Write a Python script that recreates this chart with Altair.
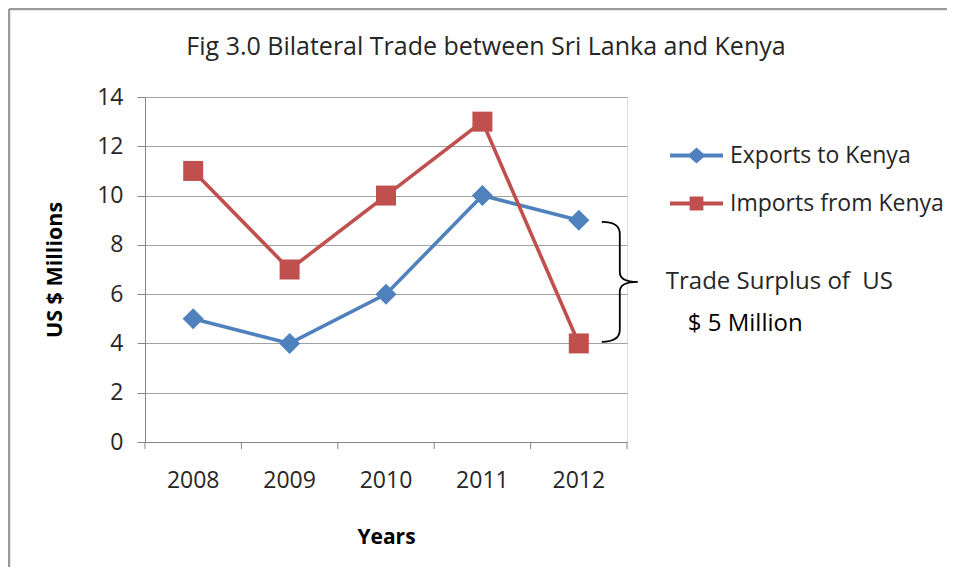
import altair as alt
import pandas as pd

# ---- data ----
years = ["2008", "2009", "2010", "2011", "2012"]
exports_to_kenya = [5, 4, 6, 10, 9]
imports_from_kenya = [11, 7, 10, 13, 4]
series_names = ["Exports to Kenya", "Imports from Kenya"]
series_colors = ["#4F81BD", "#C0504D"]
series_shapes = ["diamond", "square"]
series_sizes = [441, 400]
y_ticks = [0, 2, 4, 6, 8, 10, 12, 14]
annotation_lines = ["Trade Surplus of\u00a0 US", "$ 5 Million"]
annotation_year = "2012"
annotation_mid = 6.5  # midway between 9 and 4

W, H = 482, 345
FONT = "Open Sans"
TXT = "#262626"
AXIS_GRAY = "#868686"
GRID_GRAY = "#A0A0A0"

df = pd.DataFrame(
    {
        "year": years * 2,
        "value": exports_to_kenya + imports_from_kenya,
        "series": [series_names[0]] * len(years) + [series_names[1]] * len(years),
    }
)
ticks_df = pd.DataFrame({"year": years})
ann_df = pd.DataFrame({"year": [annotation_year], "value": [annotation_mid]})

x_scale = alt.Scale(type="band", domain=years, paddingInner=0, paddingOuter=0)
y_scale = alt.Scale(domain=[0, 14], nice=False)
color_scale = alt.Scale(domain=series_names, range=series_colors)

diamond_leg = ("M-1,-0.075 L-0.255,-0.075 L0,-0.3 L0.255,-0.075 L1,-0.075 L1,0.075 "
               "L0.255,0.075 L0,0.3 L-0.255,0.075 L-1,0.075 Z")
square_leg = ("M-1,-0.075 L-0.26,-0.075 L-0.26,-0.26 L0.26,-0.26 L0.26,-0.075 L1,-0.075 "
              "L1,0.075 L0.26,0.075 L0.26,0.26 L-0.26,0.26 L-0.26,0.075 L-1,0.075 Z")
brace_path = "M-0.3,-1 Q0,-1 0,-0.8 L0,-0.16 Q0,0 0.3,0 Q0,0 0,0.16 L0,0.8 Q0,1 -0.3,1"

x_axis = alt.Axis(
    title="Years",
    titleFont=FONT,
    titleFontSize=21,
    titleFontWeight="bold",
    titleColor="#000000",
    titleBaseline="middle",
    titleY=95,
    labelFont=FONT,
    labelFontSize=23,
    labelColor=TXT,
    labelAngle=0,
    labelPadding=27,
    ticks=False,
    tickSize=0,
    domainColor=AXIS_GRAY,
    domainWidth=1,
    grid=False,
)
y_axis = alt.Axis(
    title="US $ Millions",
    titleFont=FONT,
    titleFontSize=21.5,
    titleFontWeight="bold",
    titleColor="#000000",
    titleBaseline="middle",
    titleX=-90,
    titleY=H / 2,
    titleAngle=270,
    values=y_ticks,
    labelFont=FONT,
    labelFontSize=23,
    labelColor=TXT,
    labelPadding=14,
    tickSize=8,
    tickColor=AXIS_GRAY,
    domainColor=AXIS_GRAY,
    grid=True,
    gridColor=GRID_GRAY,
    gridWidth=1,
)


def xe(**kw):
    return alt.X("year:N", scale=x_scale, sort=years, axis=x_axis, **kw)


y_enc = alt.Y("value:Q", scale=y_scale, axis=y_axis)

layers = []

# x-axis tick marks between categories (at band edges)
layers.append(
    alt.Chart(ticks_df).mark_rule(color=AXIS_GRAY, strokeWidth=1).encode(
        x=xe(bandPosition=0), y=alt.value(H), y2=alt.value(H + 7)
    )
)
layers.append(
    alt.Chart(ticks_df.tail(1)).mark_rule(color=AXIS_GRAY, strokeWidth=1).encode(
        x=xe(bandPosition=1), y=alt.value(H), y2=alt.value(H + 7)
    )
)

# series lines and markers
for name, col, shp, sz in zip(series_names, series_colors, series_shapes, series_sizes):
    sub = alt.Chart(df).transform_filter(alt.datum.series == name)
    layers.append(sub.mark_line(strokeWidth=3.6, color=col).encode(x=xe(), y=y_enc))
for name, col, shp, sz in zip(series_names, series_colors, series_shapes, series_sizes):
    sub = alt.Chart(df).transform_filter(alt.datum.series == name)
    layers.append(
        sub.mark_point(shape=shp, filled=True, size=sz, opacity=1, color=col).encode(x=xe(), y=y_enc)
    )

# legend carrier (invisible marks, visible legend)
legend_def = alt.Legend(
    title=None,
    orient="none",
    legendX=525,
    legendY=32,
    labelFont=FONT,
    labelFontSize=23,
    labelColor=TXT,
    labelOffset=7,
    labelLimit=400,
    symbolSize=2809,
    symbolOpacity=1,
    symbolStrokeWidth=0,
    rowPadding=9,
    padding=0,
)
layers.append(
    alt.Chart(df).mark_point(filled=True, opacity=0).encode(
        x=xe(),
        y=y_enc,
        color=alt.Color("series:N", scale=color_scale, legend=legend_def),
        shape=alt.Shape(
            "series:N",
            scale=alt.Scale(domain=series_names, range=[diamond_leg, square_leg]),
            legend=legend_def,
        ),
    )
)

# brace + annotation
layers.append(
    alt.Chart(ann_df).mark_point(
        shape=brace_path, filled=False, size=14400, color="#000000", strokeWidth=1.8, xOffset=41, opacity=1
    ).encode(x=xe(), y=y_enc)
)
for txt, dx, dy, col in zip(annotation_lines, [87, 109], [0, 42], [TXT, "#000000"]):
    layers.append(
        alt.Chart(pd.DataFrame({"year": [annotation_year], "value": [annotation_mid], "t": [txt]}))
        .mark_text(align="left", baseline="middle", dx=dx, dy=dy, font=FONT, fontSize=24, color=col)
        .encode(x=xe(), y=y_enc, text="t:N")
    )

# decorative frame (left and top edges of the figure box)
layers.append(
    alt.Chart(ticks_df.head(1)).mark_rule(color="#9a9a9a", strokeWidth=2.5).encode(
        x=alt.value(-136), y=alt.value(-88), y2=alt.value(H + 130)
    )
)
layers.append(
    alt.Chart(ticks_df.head(1)).mark_rule(color="#9a9a9a", strokeWidth=2.5).encode(
        x=alt.value(-136), x2=alt.value(W + 330), y=alt.value(-88)
    )
)

chart = (
    alt.layer(*layers)
    .properties(
        width=W,
        height=H,
        padding={"left": 137, "top": 89, "right": 320, "bottom": 125},
        autosize=alt.AutoSizeParams(type="none"),
        title=alt.TitleParams(
            "Fig 3.0 Bilateral Trade between Sri Lanka and Kenya",
            font=FONT,
            fontSize=25,
            fontWeight="normal",
            color=TXT,
            anchor="middle",
            baseline="middle",
            dx=100,
            offset=-64,
        ),
    )
    .configure_view(stroke=None)
    .configure(background="white")
)

chart.save("out.html", embed_options={"renderer": "svg", "actions": False})
